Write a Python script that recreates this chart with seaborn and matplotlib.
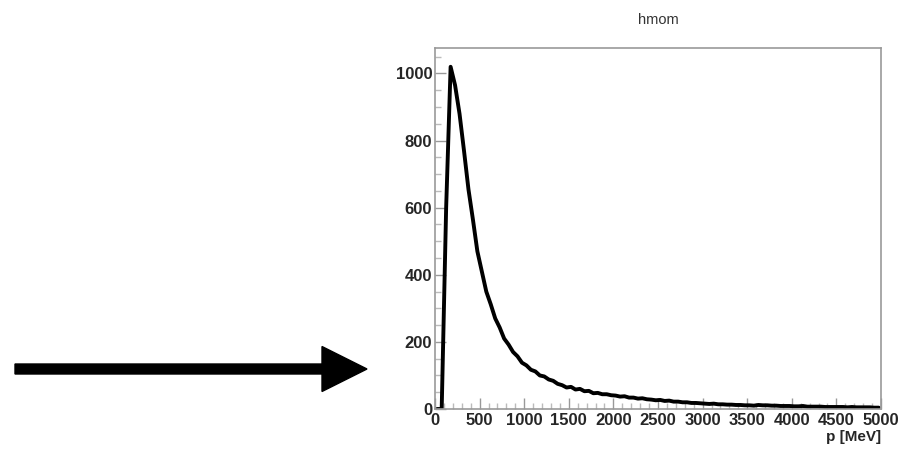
import matplotlib
matplotlib.use("Agg")
import matplotlib.pyplot as plt
from matplotlib.patches import FancyArrow
from matplotlib.ticker import MultipleLocator
import seaborn as sns

# histogram "hmom": momentum spectrum, 50 MeV bins from 0 to 5000 MeV
bin_width = 50
counts = [
    0, 0, 600, 1020, 965, 880, 770, 655, 565, 470,
    410, 350, 312, 270, 243, 210, 192, 170, 157, 138,
    130, 117, 112, 100, 97, 88, 84, 75, 71, 64,
    66, 58, 60, 53, 54, 47, 48, 44, 44, 41,
    40, 37, 38, 34, 34, 31, 32, 29, 28, 26,
    27, 24, 25, 22, 22, 20, 20, 18, 18, 17,
    16, 15, 16, 14, 14, 13, 13, 12, 12, 11,
    11, 10, 12, 11, 11, 10, 10, 9, 9, 9,
    8, 8, 9, 7, 7, 7, 7, 6, 6, 6,
    6, 6, 5, 6, 5, 5, 5, 5, 4, 4,
]
bin_edges = [i * bin_width for i in range(len(counts) + 1)]
bin_centers = [e + bin_width / 2 for e in bin_edges[:-1]]

x_ticks = [0, 500, 1000, 1500, 2000, 2500, 3000, 3500, 4000, 4500, 5000]
y_ticks = [0, 200, 400, 600, 800, 1000]

sns.set_style("ticks")
plt.rcParams["font.family"] = ["Liberation Sans", "DejaVu Sans"]

fig = plt.figure(figsize=(9.03, 4.51), dpi=100)

# background layer in pixel coordinates for the arrow
bg = fig.add_axes([0, 0, 1, 1])
bg.set_xlim(0, 903)
bg.set_ylim(451, 0)
bg.axis("off")
bg.add_patch(FancyArrow(15, 369, 352, 0, width=10, head_width=45, head_length=45,
                        length_includes_head=True, color="black"))

ax = fig.add_axes([435 / 903, 42 / 451, 446 / 903, 361 / 451])
sns.histplot(x=bin_centers, weights=counts, bins=bin_edges, element="poly",
             fill=False, color="black", linewidth=2.8, ax=ax)

ax.set_xlim(0, 5000)
ax.set_ylim(0, 1076)
ax.set_xticks(x_ticks)
ax.set_yticks(y_ticks)
ax.xaxis.set_minor_locator(MultipleLocator(100))
ax.yaxis.set_minor_locator(MultipleLocator(50))
ax.tick_params(which="major", direction="in", length=8, width=1, color="#999999",
               labelsize=12, pad=3)
ax.tick_params(which="minor", direction="in", length=4, width=1, color="#bbbbbb")
ax.tick_params(axis="y", pad=2)
for lab in ax.get_xticklabels() + ax.get_yticklabels():
    lab.set_fontweight("bold")
for s in ax.spines.values():
    s.set_color("#999999")
    s.set_linewidth(1.2)

ax.set_ylabel("")
ax.set_xlabel("p [MeV]", fontsize=11, fontweight="bold", loc="right", labelpad=1)
fig.text(658 / 903, 1 - 20 / 451, "hmom", ha="center", va="center",
         fontsize=10.5, color="#333333")

fig.savefig("out.png", dpi=100)
